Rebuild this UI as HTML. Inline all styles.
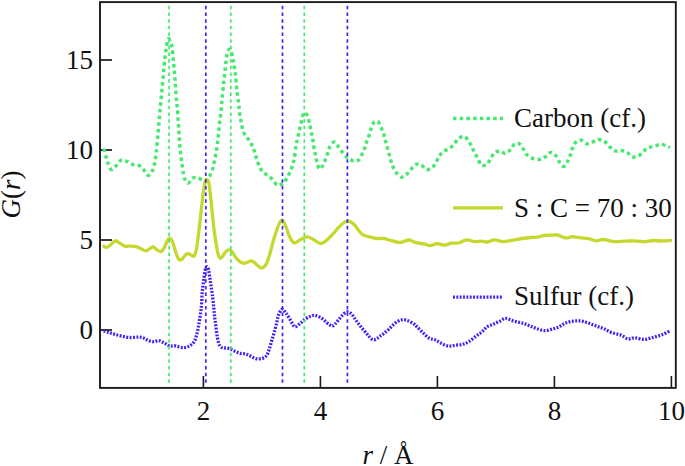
<!DOCTYPE html>
<html><head><meta charset="utf-8"><style>
html,body{margin:0;padding:0;background:#fff;}
body{width:685px;height:466px;overflow:hidden;font-family:"Liberation Serif",serif;}
svg{display:block;}
svg text{font-family:"Liberation Serif",serif;}
</style></head><body>
<svg width="685" height="466" viewBox="0 0 685 466">
<rect width="685" height="466" fill="#fff"/>
<rect x="100" y="2.1" width="575.8" height="385.8" fill="none" stroke="#1a1a1a" stroke-width="1.9"/>
<line x1="100" y1="330" x2="112" y2="330" stroke="#1a1a1a" stroke-width="1.7"/>
<text x="93" y="339.2" text-anchor="end" font-size="27" fill="#111">0</text>
<line x1="100" y1="240" x2="112" y2="240" stroke="#1a1a1a" stroke-width="1.7"/>
<text x="93" y="249.2" text-anchor="end" font-size="27" fill="#111">5</text>
<line x1="100" y1="150" x2="112" y2="150" stroke="#1a1a1a" stroke-width="1.7"/>
<text x="93" y="159.2" text-anchor="end" font-size="27" fill="#111">10</text>
<line x1="100" y1="60" x2="112" y2="60" stroke="#1a1a1a" stroke-width="1.7"/>
<text x="93" y="69.2" text-anchor="end" font-size="27" fill="#111">15</text>
<line x1="203.4" y1="376" x2="203.4" y2="388" stroke="#1a1a1a" stroke-width="1.6"/>
<text x="203.4" y="419.5" text-anchor="middle" font-size="27" fill="#111">2</text>
<line x1="320.4" y1="376" x2="320.4" y2="388" stroke="#1a1a1a" stroke-width="1.6"/>
<text x="320.4" y="419.5" text-anchor="middle" font-size="27" fill="#111">4</text>
<line x1="437.4" y1="376" x2="437.4" y2="388" stroke="#1a1a1a" stroke-width="1.6"/>
<text x="437.4" y="419.5" text-anchor="middle" font-size="27" fill="#111">6</text>
<line x1="554.4" y1="376" x2="554.4" y2="388" stroke="#1a1a1a" stroke-width="1.6"/>
<text x="554.4" y="419.5" text-anchor="middle" font-size="27" fill="#111">8</text>
<line x1="671.4" y1="376" x2="671.4" y2="388" stroke="#1a1a1a" stroke-width="1.6"/>
<text x="671.4" y="419.5" text-anchor="middle" font-size="27" fill="#111">10</text>
<path d="M104.0,148.6 C104.3,150.0 105.3,154.4 106.0,156.8 C106.7,159.2 107.1,161.1 108.0,163.2 C108.9,165.3 110.0,169.1 111.4,169.5 C112.8,169.9 114.8,166.9 116.4,165.4 C118.0,163.9 119.2,161.0 121.0,160.3 C122.8,159.6 125.0,160.7 126.9,161.4 C128.8,162.1 130.6,163.7 132.7,164.4 C134.8,165.1 137.6,164.8 139.5,165.8 C141.4,166.8 142.7,168.6 144.1,170.2 C145.5,171.8 146.8,175.2 148.1,175.4 C149.4,175.6 150.9,173.3 151.9,171.6 C152.9,169.9 153.5,168.6 154.2,165.4 C154.9,162.2 155.7,157.8 156.3,152.3 C157.0,146.8 157.5,138.8 158.1,132.2 C158.7,125.6 159.1,120.7 159.8,112.9 C160.5,105.1 161.7,93.3 162.4,85.4 C163.1,77.5 163.7,71.1 164.2,65.6 C164.7,60.1 165.0,56.6 165.6,52.5 C166.2,48.4 167.0,43.3 167.5,41.0 C168.0,38.7 168.3,38.7 168.8,38.8 C169.3,38.9 169.8,40.1 170.3,41.6 C170.9,43.1 171.6,44.4 172.1,47.8 C172.6,51.2 173.1,57.3 173.5,61.8 C173.9,66.3 174.3,70.5 174.7,74.9 C175.0,79.3 175.3,83.6 175.6,88.1 C175.9,92.6 176.3,98.3 176.6,101.7 C176.9,105.1 177.0,104.9 177.3,108.2 C177.6,111.5 177.9,117.2 178.2,121.6 C178.5,126.0 178.8,130.4 179.1,134.8 C179.4,139.2 179.6,143.4 180.0,147.9 C180.4,152.4 181.1,157.5 181.7,161.9 C182.3,166.3 182.9,171.1 183.5,174.2 C184.1,177.3 184.7,179.0 185.5,180.5 C186.3,182.0 187.3,183.4 188.5,183.0 C189.7,182.6 191.3,178.8 192.9,178.0 C194.5,177.2 196.3,177.5 198.1,178.0 C199.9,178.5 202.6,180.5 203.9,180.9 C205.2,181.3 205.1,181.1 206.0,180.3 C206.9,179.5 208.4,177.8 209.5,176.1 C210.6,174.3 211.7,171.9 212.4,169.8 C213.1,167.7 213.3,165.8 213.8,163.7 C214.3,161.6 214.8,159.4 215.2,157.2 C215.6,155.0 216.1,152.6 216.4,150.5 C216.8,148.4 217.0,146.6 217.3,144.4 C217.6,142.2 217.8,140.8 218.1,137.4 C218.4,134.1 219.1,127.6 219.4,124.3 C219.8,121.0 219.9,119.8 220.2,117.6 C220.5,115.4 220.9,113.3 221.1,111.1 C221.3,108.9 221.4,106.8 221.6,104.5 C221.8,102.2 221.9,100.7 222.2,97.4 C222.5,94.1 223.1,88.0 223.4,84.7 C223.8,81.4 223.9,81.1 224.3,77.7 C224.7,74.3 225.3,67.8 225.7,64.5 C226.1,61.2 226.2,59.9 226.5,57.7 C226.8,55.5 227.1,52.8 227.8,51.4 C228.5,50.0 229.7,48.4 230.5,49.4 C231.3,50.4 232.0,54.9 232.5,57.2 C233.0,59.5 233.2,61.1 233.6,63.3 C234.0,65.5 234.5,68.0 234.8,70.3 C235.2,72.6 235.3,73.7 235.7,77.0 C236.0,80.3 236.4,85.7 236.9,90.1 C237.4,94.5 238.2,100.0 238.6,103.2 C239.0,106.4 239.0,107.2 239.2,109.4 C239.4,111.6 239.7,114.2 240.0,116.4 C240.3,118.6 240.9,120.3 241.3,122.5 C241.8,124.7 242.0,127.3 242.7,129.5 C243.4,131.7 244.1,133.8 245.3,135.7 C246.5,137.6 248.5,139.0 249.7,140.9 C250.9,142.8 251.8,145.0 252.7,147.0 C253.6,149.0 254.2,150.6 254.9,152.7 C255.6,154.8 256.0,157.2 256.7,159.3 C257.4,161.4 258.1,163.5 259.0,165.4 C259.9,167.3 260.6,169.3 262.0,171.0 C263.4,172.7 265.6,173.9 267.3,175.3 C269.1,176.7 270.9,178.0 272.5,179.6 C274.1,181.2 275.8,184.2 277.0,185.0 C278.2,185.8 278.9,185.0 280.0,184.7 C281.1,184.4 282.3,184.4 283.5,183.3 C284.7,182.2 285.9,179.8 287.0,177.9 C288.1,176.0 289.1,174.1 290.0,172.1 C290.9,170.1 291.6,168.3 292.3,166.0 C293.0,163.7 293.7,161.7 294.3,158.4 C294.9,155.1 295.4,149.4 295.9,146.3 C296.4,143.2 296.8,141.8 297.3,139.6 C297.8,137.3 298.3,135.0 298.8,132.8 C299.3,130.6 299.8,128.7 300.3,126.6 C300.8,124.5 301.4,121.8 301.8,120.0 C302.2,118.2 302.5,116.8 302.9,115.5 C303.3,114.2 303.7,112.7 304.2,112.4 C304.7,112.1 305.4,112.9 306.0,113.6 C306.6,114.3 307.2,115.0 307.8,116.5 C308.4,118.0 308.9,120.6 309.4,122.8 C309.9,125.0 310.3,127.5 310.8,129.8 C311.3,132.1 311.8,134.2 312.2,136.4 C312.6,138.6 313.0,140.7 313.4,142.9 C313.8,145.2 313.9,147.7 314.3,149.9 C314.7,152.1 315.3,154.1 315.7,156.1 C316.1,158.1 316.3,160.0 316.9,162.2 C317.5,164.3 318.5,168.5 319.5,169.0 C320.5,169.5 322.0,166.9 323.0,165.2 C324.0,163.5 324.9,160.8 325.7,158.7 C326.5,156.6 327.2,154.6 327.9,152.6 C328.6,150.6 328.9,148.2 330.0,146.4 C331.1,144.6 332.9,141.8 334.4,142.0 C335.9,142.2 337.3,145.4 338.8,147.3 C340.3,149.2 341.7,151.7 343.2,153.4 C344.7,155.2 345.9,156.5 347.6,157.8 C349.4,159.1 351.8,160.7 353.7,161.0 C355.6,161.3 357.6,160.9 359.0,159.6 C360.4,158.3 361.4,155.5 362.4,153.4 C363.4,151.3 364.4,149.0 365.1,147.0 C365.8,145.0 366.1,143.3 366.8,141.2 C367.5,139.1 368.8,136.4 369.5,134.2 C370.2,132.0 370.5,130.0 371.2,128.0 C371.9,126.0 372.9,123.5 373.8,122.4 C374.7,121.3 375.7,121.4 376.5,121.4 C377.3,121.4 377.8,121.2 378.7,122.4 C379.6,123.7 380.8,126.8 381.7,128.9 C382.6,131.0 383.3,132.9 384.0,135.0 C384.7,137.1 385.1,139.5 385.7,141.7 C386.3,143.9 386.9,146.0 387.5,148.2 C388.1,150.4 388.7,152.6 389.3,154.7 C389.9,156.8 390.4,159.0 391.0,161.0 C391.6,163.0 392.2,165.0 393.1,166.9 C394.0,168.8 395.0,171.0 396.3,172.7 C397.6,174.4 399.4,176.8 401.0,177.1 C402.6,177.4 404.6,175.7 406.2,174.5 C407.8,173.3 409.0,171.4 410.6,169.7 C412.2,168.0 414.3,165.1 416.1,164.3 C417.9,163.6 419.6,164.3 421.4,165.2 C423.1,166.1 424.8,169.2 426.6,169.6 C428.4,169.9 430.8,168.6 432.4,167.3 C434.0,166.0 435.1,163.6 436.3,161.7 C437.5,159.8 438.2,157.6 439.4,155.9 C440.6,154.2 441.8,152.6 443.6,151.3 C445.4,150.0 448.2,149.5 450.0,148.2 C451.8,146.9 452.9,145.2 454.3,143.6 C455.8,142.0 457.0,139.6 458.7,138.4 C460.4,137.2 462.6,135.8 464.3,136.3 C466.0,136.8 467.5,139.4 468.7,141.2 C469.9,142.9 470.7,144.9 471.7,146.8 C472.7,148.8 473.8,150.9 474.8,152.9 C475.9,154.9 476.9,157.1 478.0,159.1 C479.1,161.1 480.0,164.3 481.5,165.2 C483.0,166.1 485.6,165.4 487.1,164.3 C488.6,163.2 489.4,160.6 490.6,158.7 C491.8,156.8 492.9,154.2 494.4,152.9 C495.9,151.7 497.8,151.1 499.7,151.2 C501.6,151.3 503.7,153.7 505.5,153.4 C507.3,153.1 509.1,151.0 510.7,149.4 C512.2,147.8 513.2,144.7 514.8,143.8 C516.3,142.9 518.5,143.2 520.0,144.2 C521.5,145.2 522.7,148.1 523.9,149.9 C525.1,151.7 525.9,153.8 527.4,155.2 C528.9,156.6 531.1,157.8 533.1,158.5 C535.1,159.2 537.6,159.7 539.6,159.4 C541.6,159.1 543.5,158.0 545.4,156.8 C547.2,155.6 549.0,152.6 550.7,152.4 C552.5,152.2 554.5,154.3 555.9,155.9 C557.3,157.5 558.1,160.2 559.4,162.0 C560.7,163.8 562.4,166.5 563.8,166.4 C565.2,166.3 566.6,163.1 567.7,161.2 C568.8,159.2 569.7,156.9 570.5,154.7 C571.3,152.5 571.7,150.1 572.6,148.0 C573.5,145.9 574.3,143.7 575.7,142.4 C577.1,141.1 579.2,139.9 581.0,140.1 C582.8,140.3 584.6,143.4 586.6,143.7 C588.6,144.0 590.7,142.6 592.7,141.9 C594.7,141.2 596.7,139.5 598.7,139.5 C600.7,139.5 603.0,140.5 604.8,141.7 C606.6,142.9 607.9,145.1 609.5,146.6 C611.1,148.1 612.8,150.1 614.7,150.8 C616.7,151.5 619.1,150.3 621.2,150.6 C623.3,150.9 625.4,151.5 627.2,152.5 C629.0,153.5 630.4,156.2 632.2,156.8 C634.1,157.4 636.5,157.0 638.3,156.1 C640.1,155.2 641.3,153.0 643.0,151.6 C644.7,150.2 646.4,148.6 648.3,147.7 C650.2,146.8 652.4,147.0 654.5,146.4 C656.6,145.8 658.8,144.3 661.0,144.3 C663.2,144.3 666.2,146.1 667.7,146.6 C669.2,147.1 669.6,147.3 670.0,147.5" fill="none" stroke="#47e870" stroke-width="3.5" stroke-dasharray="3.5 3.2"/>
<path d="M104.0,246.3 C104.4,246.5 105.6,247.5 106.6,247.3 C107.6,247.1 108.9,246.1 110.0,245.3 C111.1,244.5 112.0,243.0 113.0,242.3 C114.0,241.6 114.8,240.7 116.0,240.9 C117.2,241.1 118.9,242.5 120.4,243.4 C121.9,244.3 123.0,245.7 124.8,246.1 C126.5,246.5 128.9,246.0 130.9,246.1 C132.9,246.2 135.2,246.4 137.0,246.9 C138.8,247.4 139.9,248.3 141.4,249.0 C142.9,249.7 144.4,250.9 145.8,250.8 C147.2,250.8 148.5,249.3 149.7,248.7 C150.9,248.0 152.0,246.8 153.2,246.9 C154.4,247.1 155.4,248.8 156.7,249.6 C157.9,250.4 159.4,252.0 160.7,251.7 C161.9,251.4 163.2,249.5 164.2,247.8 C165.2,246.1 165.9,243.3 166.8,241.7 C167.7,240.1 168.6,238.3 169.5,238.2 C170.4,238.0 171.2,239.1 172.1,240.8 C173.0,242.6 174.0,246.4 174.7,248.7 C175.4,251.0 175.9,252.8 176.5,254.5 C177.1,256.1 177.7,257.7 178.3,258.6 C178.9,259.6 179.6,260.2 180.3,260.2 C181.0,260.2 181.7,259.5 182.4,258.8 C183.1,258.1 183.7,256.9 184.5,256.0 C185.3,255.1 186.4,253.8 187.5,253.6 C188.6,253.4 189.9,254.6 191.0,255.0 C192.1,255.4 193.1,256.9 194.0,256.0 C194.9,255.1 195.7,252.8 196.4,249.7 C197.1,246.6 197.5,241.9 198.1,237.4 C198.7,232.9 199.3,227.7 199.9,222.6 C200.5,217.5 201.0,211.9 201.6,206.8 C202.2,201.7 202.8,196.1 203.4,191.9 C204.0,187.7 204.5,183.9 205.1,181.8 C205.7,179.7 206.3,179.2 206.9,179.3 C207.5,179.4 208.1,179.8 208.7,182.3 C209.3,184.8 209.8,189.6 210.4,194.5 C211.0,199.4 211.6,206.3 212.2,212.0 C212.8,217.7 213.3,223.8 213.9,228.5 C214.5,233.2 215.0,236.8 215.5,240.0 C216.0,243.2 216.5,245.6 216.9,248.0 C217.3,250.4 217.6,252.8 218.2,254.5 C218.8,256.2 219.5,258.2 220.3,258.4 C221.1,258.6 222.1,256.9 223.0,255.8 C223.9,254.7 224.6,252.8 225.6,251.8 C226.6,250.8 227.7,249.9 228.8,249.9 C229.9,249.9 231.0,250.8 232.0,251.7 C233.0,252.6 233.7,254.3 234.6,255.6 C235.5,256.9 236.3,258.4 237.7,259.7 C239.1,261.0 241.3,262.8 242.9,263.2 C244.5,263.6 245.8,262.7 247.3,262.3 C248.8,261.9 250.2,260.6 251.7,260.9 C253.2,261.2 254.5,262.9 256.1,264.1 C257.7,265.3 259.7,268.0 261.3,268.1 C262.9,268.2 264.4,266.9 265.7,264.9 C267.0,262.9 268.2,259.3 269.2,256.2 C270.2,253.1 270.8,250.2 271.8,246.5 C272.8,242.8 274.1,238.0 275.3,234.3 C276.5,230.7 277.7,227.0 278.8,224.6 C279.9,222.2 280.9,219.8 282.1,220.1 C283.3,220.4 284.6,223.8 285.8,226.4 C287.0,229.1 288.1,233.4 289.3,236.0 C290.5,238.6 291.9,241.1 292.9,242.2 C293.9,243.3 294.2,243.1 295.5,242.7 C296.8,242.2 298.8,240.5 300.7,239.5 C302.6,238.5 305.0,237.0 306.9,236.9 C308.8,236.8 310.7,238.0 312.1,238.7 C313.5,239.3 313.9,240.0 315.3,240.8 C316.8,241.6 318.9,243.6 320.8,243.5 C322.7,243.4 324.6,241.8 326.6,240.2 C328.6,238.6 330.8,236.4 332.8,234.2 C334.9,232.0 337.0,229.2 338.9,227.2 C340.8,225.2 342.4,223.4 344.2,222.4 C345.9,221.4 347.8,221.1 349.4,221.4 C351.0,221.7 352.3,222.8 353.8,224.2 C355.3,225.6 356.7,228.1 358.2,229.8 C359.7,231.6 360.7,233.5 362.6,234.7 C364.5,235.9 367.3,236.2 369.6,236.8 C371.9,237.4 374.3,238.2 376.6,238.5 C378.9,238.8 381.3,238.2 383.6,238.5 C385.9,238.8 388.0,239.7 390.6,240.3 C393.2,241.0 397.0,242.2 399.3,242.4 C401.6,242.6 403.0,241.6 404.6,241.2 C406.2,240.8 407.2,239.8 409.0,240.0 C410.8,240.2 413.2,241.8 415.1,242.4 C417.0,243.0 418.7,243.1 420.4,243.4 C422.1,243.7 423.5,243.8 425.1,244.2 C426.7,244.6 428.1,245.8 430.2,245.7 C432.2,245.6 435.0,243.7 437.4,243.6 C439.8,243.5 442.1,245.3 444.5,245.2 C446.9,245.1 449.3,243.6 451.7,243.2 C454.1,242.8 456.3,243.6 458.8,243.0 C461.3,242.4 464.0,240.1 466.6,239.9 C469.2,239.7 471.8,241.4 474.2,241.6 C476.6,241.8 479.1,241.1 481.3,241.2 C483.5,241.3 485.2,242.2 487.4,242.0 C489.6,241.8 492.0,240.0 494.6,239.9 C497.2,239.8 499.9,241.5 502.8,241.6 C505.7,241.7 508.8,240.8 512.0,240.3 C515.2,239.8 519.1,239.0 522.2,238.5 C525.3,238.0 527.9,237.7 530.4,237.5 C532.9,237.3 535.1,237.4 537.5,237.1 C539.9,236.8 542.3,235.7 544.7,235.4 C547.1,235.1 549.7,235.3 551.8,235.2 C553.9,235.1 555.0,234.6 557.3,235.0 C559.6,235.4 562.8,237.6 565.4,237.9 C568.0,238.2 570.0,236.7 572.6,236.7 C575.2,236.7 578.1,237.6 580.8,237.9 C583.5,238.2 586.3,238.2 588.9,238.7 C591.5,239.2 593.7,240.7 596.1,240.8 C598.5,240.9 600.1,239.4 603.2,239.5 C606.3,239.6 610.9,241.3 614.5,241.6 C618.1,241.9 621.6,241.3 624.7,241.2 C627.8,241.1 629.8,240.7 632.9,240.8 C636.0,240.9 639.7,241.7 643.1,241.6 C646.5,241.5 650.2,240.6 653.3,240.5 C656.4,240.4 658.6,241.0 661.5,241.0 C664.4,241.0 669.2,240.6 670.7,240.5" fill="none" stroke="#c5d82e" stroke-width="3.3" stroke-linejoin="round" stroke-linecap="round"/>
<path d="M103.7,330.9 C104.6,331.2 107.2,332.1 109.0,332.6 C110.8,333.2 112.2,333.6 114.3,334.2 C116.3,334.8 118.7,335.4 121.3,336.0 C123.9,336.6 127.1,337.3 130.0,337.5 C132.9,337.7 136.5,337.0 138.8,337.1 C141.2,337.2 142.5,337.6 144.1,338.2 C145.7,338.8 146.8,340.0 148.4,340.6 C150.0,341.2 151.9,341.7 153.7,341.7 C155.4,341.7 157.2,340.4 158.9,340.6 C160.7,340.8 162.4,342.0 164.2,342.9 C166.0,343.8 167.6,345.4 169.5,345.9 C171.4,346.4 173.3,345.6 175.6,345.9 C177.9,346.2 181.2,347.7 183.5,347.7 C185.8,347.7 187.8,346.8 189.6,345.9 C191.3,344.9 192.8,343.8 194.0,342.0 C195.2,340.2 195.8,337.8 196.6,335.0 C197.4,332.2 198.1,328.4 198.7,325.0 C199.3,321.6 199.9,318.0 200.4,314.5 C200.9,311.0 201.3,307.6 201.6,304.0 C201.9,300.4 201.9,296.2 202.2,293.0 C202.4,289.8 202.8,287.5 203.1,285.0 C203.4,282.5 203.7,280.2 204.0,278.0 C204.3,275.8 204.6,273.2 204.9,271.5 C205.2,269.8 205.6,268.6 205.9,267.8 C206.2,267.0 206.6,266.5 207.0,266.6 C207.4,266.7 207.8,267.3 208.1,268.2 C208.4,269.1 208.6,270.0 208.9,271.8 C209.2,273.6 209.6,276.6 210.0,279.0 C210.4,281.4 210.7,284.0 211.1,286.5 C211.5,289.0 211.8,291.1 212.2,294.0 C212.6,296.9 213.0,300.6 213.4,304.0 C213.8,307.4 214.0,311.0 214.4,314.5 C214.8,318.0 215.2,321.2 215.7,325.0 C216.2,328.8 216.7,333.8 217.4,337.3 C218.1,340.8 218.8,344.4 220.0,346.1 C221.2,347.9 222.8,347.4 224.4,347.8 C226.0,348.2 227.9,348.1 229.7,348.7 C231.4,349.3 233.2,350.5 234.9,351.3 C236.7,352.1 238.4,353.0 240.2,353.4 C241.9,353.8 243.7,353.4 245.4,353.9 C247.2,354.4 248.9,355.4 250.7,356.2 C252.5,357.0 254.1,358.3 256.0,358.7 C257.9,359.1 260.4,358.8 262.1,358.3 C263.9,357.8 265.3,357.1 266.5,355.7 C267.7,354.2 268.2,352.1 269.1,349.6 C270.0,347.1 270.8,343.7 271.7,340.8 C272.6,337.9 273.4,335.2 274.3,332.0 C275.2,328.8 276.3,324.4 277.0,321.5 C277.7,318.6 277.8,316.5 278.7,314.5 C279.6,312.5 281.0,309.6 282.2,309.3 C283.4,309.0 284.5,311.4 285.7,312.8 C286.9,314.2 288.0,316.1 289.2,318.0 C290.4,319.9 291.7,322.7 292.7,324.2 C293.7,325.7 294.1,326.9 295.4,326.8 C296.7,326.7 298.6,324.6 300.3,323.3 C302.0,322.0 303.8,320.1 305.5,318.9 C307.2,317.7 309.2,316.9 310.8,316.3 C312.4,315.7 313.4,315.1 315.1,315.4 C316.9,315.7 319.4,316.8 321.3,318.0 C323.2,319.2 325.1,321.2 326.5,322.4 C327.9,323.6 329.0,324.4 330.0,325.0 C331.0,325.6 331.5,326.1 332.3,326.0 C333.1,325.9 333.7,325.5 334.6,324.6 C335.5,323.7 336.6,322.2 337.9,320.7 C339.2,319.2 340.8,316.9 342.3,315.4 C343.9,313.9 345.6,312.0 347.2,311.9 C348.8,311.8 350.4,313.0 351.9,314.5 C353.4,316.0 354.7,318.5 356.3,320.7 C357.9,322.9 359.9,325.5 361.6,327.7 C363.4,329.9 365.6,332.4 366.8,333.8 C368.0,335.2 368.2,335.5 369.0,336.4 C369.8,337.2 370.7,338.3 371.5,338.9 C372.3,339.5 373.1,339.9 374.0,339.8 C374.9,339.8 375.9,339.1 376.8,338.6 C377.7,338.1 378.4,337.4 379.5,336.6 C380.6,335.8 382.0,335.0 383.5,333.8 C385.0,332.6 386.8,331.1 388.7,329.4 C390.6,327.6 392.7,324.9 394.9,323.3 C397.1,321.7 399.7,320.2 401.9,319.8 C404.1,319.4 406.0,320.0 408.0,320.7 C410.0,321.4 412.6,323.2 414.1,324.2 C415.6,325.2 415.5,325.4 417.0,326.8 C418.5,328.2 421.1,331.0 423.1,332.9 C425.2,334.8 427.2,337.0 429.3,338.2 C431.4,339.4 433.4,339.0 435.4,339.9 C437.4,340.8 439.3,342.4 441.5,343.4 C443.7,344.4 446.2,345.8 448.5,346.1 C450.8,346.4 453.1,345.5 455.5,345.2 C457.9,344.9 460.4,344.9 462.6,344.3 C464.8,343.7 466.5,343.0 468.7,341.7 C470.9,340.4 473.5,338.0 475.7,336.4 C477.9,334.8 479.9,333.6 481.8,332.0 C483.7,330.4 485.2,328.1 487.1,326.8 C489.0,325.5 491.2,325.1 493.2,324.2 C495.2,323.3 497.2,322.5 499.3,321.5 C501.4,320.5 503.3,318.5 505.5,318.4 C507.7,318.3 510.2,320.0 512.5,320.7 C514.8,321.4 517.4,321.9 519.5,322.4 C521.6,322.9 523.1,323.2 525.0,323.9 C526.9,324.5 528.8,325.5 530.8,326.3 C532.8,327.1 534.5,327.9 536.7,328.6 C539.0,329.3 541.8,330.5 544.3,330.6 C546.8,330.7 549.5,329.8 551.9,329.2 C554.3,328.6 556.8,327.9 558.9,326.9 C561.0,325.9 562.6,324.3 564.7,323.4 C566.8,322.5 569.3,321.7 571.7,321.3 C574.1,320.9 577.0,320.7 579.3,320.8 C581.6,320.9 583.6,321.6 585.7,322.2 C587.9,322.8 590.1,323.7 592.2,324.5 C594.4,325.3 596.6,326.1 598.6,326.9 C600.6,327.6 602.2,328.1 604.4,329.0 C606.6,329.9 608.9,331.6 611.7,332.6 C614.5,333.6 618.3,334.1 621.0,335.1 C623.7,336.1 625.7,338.4 628.0,338.8 C630.3,339.2 632.3,337.7 635.0,337.8 C637.7,337.9 641.3,339.5 644.4,339.4 C647.5,339.3 650.6,338.0 653.7,337.2 C656.8,336.4 660.3,335.4 663.0,334.3 C665.7,333.2 668.8,331.4 670.0,330.8" fill="none" stroke="#4220f8" stroke-width="3.3" stroke-dasharray="1.9 1.45"/>
<line x1="169.1" y1="5.8" x2="169.1" y2="386" stroke="#47e870" stroke-width="1.7" stroke-dasharray="3.5 3.17"/>
<line x1="230.8" y1="5.8" x2="230.8" y2="386" stroke="#47e870" stroke-width="1.7" stroke-dasharray="3.5 3.17"/>
<line x1="304.3" y1="5.8" x2="304.3" y2="386" stroke="#47e870" stroke-width="1.7" stroke-dasharray="3.5 3.17"/>
<line x1="205.8" y1="5.8" x2="205.8" y2="386" stroke="#4220f8" stroke-width="1.7" stroke-dasharray="3.5 3.17"/>
<line x1="282.5" y1="5.8" x2="282.5" y2="386" stroke="#4220f8" stroke-width="1.7" stroke-dasharray="3.5 3.17"/>
<line x1="347.4" y1="5.8" x2="347.4" y2="386" stroke="#4220f8" stroke-width="1.7" stroke-dasharray="3.5 3.17"/>
<line x1="453" y1="118.6" x2="503" y2="118.6" stroke="#47e870" stroke-width="3.5" stroke-dasharray="3.5 3.2"/>
<line x1="453" y1="207.9" x2="503" y2="207.9" stroke="#c5d82e" stroke-width="3.3"/>
<line x1="453" y1="297.2" x2="502" y2="297.2" stroke="#4220f8" stroke-width="3.3" stroke-dasharray="1.9 1.45"/>
<text x="514" y="126.8" font-size="27" fill="#111">Carbon (cf.)</text>
<text x="514" y="216.8" font-size="27" fill="#111">S : C = 70 : 30</text>
<text x="514" y="305.2" font-size="27" fill="#111">Sulfur (cf.)</text>
<text x="388" y="464" text-anchor="middle" font-size="27" fill="#111"><tspan font-style="italic">r</tspan> / Å</text>
<text transform="translate(20.3,194.6) rotate(-90)" text-anchor="middle" font-size="27" fill="#111"><tspan font-style="italic">G</tspan>(<tspan font-style="italic">r</tspan>)</text>
</svg>
</body></html>
